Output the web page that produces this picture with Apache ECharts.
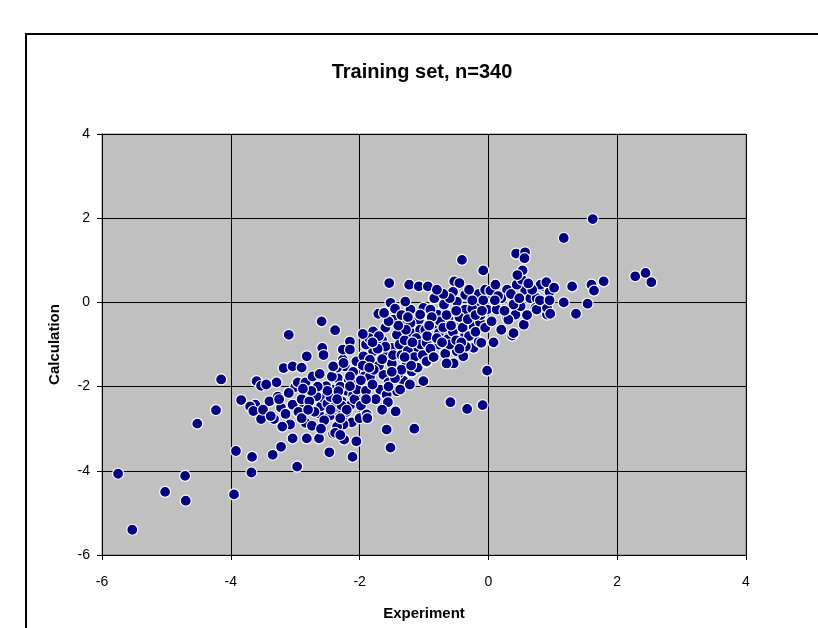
<!DOCTYPE html>
<html>
<head>
<meta charset="utf-8">
<script src="https://cdn.jsdelivr.net/npm/echarts@6/dist/echarts.min.js"></script>
<style>
html,body{margin:0;padding:0;background:#fff;}
#chart{width:818px;height:628px;}
</style>
</head>
<body>
<div id="chart"></div>
<script>
const titleText = "Training set, n=340";
const xName = "Experiment";
const yName = "Calculation";
const xTicks = [-6, -4, -2, 0, 2, 4];
const yTicks = [-6, -4, -2, 0, 2, 4];

const ptsFar = [[-5.75,-4.07],[-5.53,-5.4],[-5.02,-4.5],[-4.71,-4.12],[-4.7,-4.71],[-4.52,-2.88],[-4.23,-2.56],[-4.15,-1.83]];
const ptsA = [[-3.95,-4.56],[-3.92,-3.53],[-3.84,-2.32],[-3.68,-4.04],[-3.67,-3.67],[-3.6,-1.87],[-3.53,-1.98],[-3.62,-2.43],[-3.7,-2.47],[-3.65,-2.58],[-3.53,-2.77],[-3.35,-3.62],[-3.33,-2.77],[-3.29,-1.9],[-3.27,-2.24],[-3.22,-3.43],[-3.22,-2.5],[-3.18,-1.56],[-3.1,-0.77],[-3.08,-2.9],[-3.04,-3.23],[-3.04,-2.43],[-3.04,-1.52],[-3.0,-2.01],[-3.4,-2.35],[-3.45,-1.95],[-3.5,-2.55],[-3.15,-2.65],[-3.1,-2.15],[-3.25,-2.3],[-3.2,-2.95],[-3.38,-2.7]];
const ptsB = [[-2.97,-3.9],[-2.96,-1.9],[-2.86,-2.47],[-2.84,-1.9],[-2.82,-1.28],[-2.82,-3.23],[-2.73,-1.76],[-2.63,-3.23],[-2.59,-0.45],[-2.58,-1.08],[-2.56,-1.25],[-2.47,-3.56],[-2.41,-3.12],[-2.38,-0.66],[-2.24,-3.26],[-2.63,-2.64],[-2.6,-2.47],[-2.46,-2.69],[-2.33,-2.59],[-2.25,-2.77],[-2.41,-2.07],[-2.34,-1.8],[-2.28,-2.35],[-2.84,-2.86],[-2.74,-2.93],[-2.56,-2.27],[-2.67,-2.23],[-2.52,-1.99],[-2.43,-1.76],[-2.26,-1.36],[-2.23,-1.52],[-2.15,-0.93],[-2.26,-1.12],[-2.17,-1.83],[-2.5,-2.4],[-2.4,-2.5],[-2.2,-2.1],[-2.15,-2.45],[-2.1,-2.2],[-2.05,-1.9],[-2.11,-3.67],[-2.12,-2.85],[-2.3,-2.0],[-2.45,-2.25],[-2.35,-1.55],[-2.1,-1.65],[-2.05,-1.4],[-2.25,-2.9],[-2.55,-2.8],[-2.7,-2.6],[-2.9,-2.3],[-2.95,-2.6],[-2.78,-2.35],[-2.9,-2.75],[-2.6,-3.0],[-2.35,-2.95],[-2.2,-2.6],[-2.08,-2.3],[-2.41,-1.52],[-2.25,-1.44],[-2.15,-1.76],[-2.33,-2.11],[-2.28,-2.45],[-2.04,-2.07],[-2.15,-1.12],[-2.15,-1.99],[-2.2,-2.55],[-2.38,-3.1],[-2.3,-3.15],[-2.5,-2.1],[-2.65,-2.0],[-2.75,-2.1],[-2.88,-2.05],[-2.45,-2.55],[-2.35,-2.3],[-2.62,-1.7],[-2.8,-2.55],[-2.3,-2.75],[-2.9,-1.55],[-2.0,-2.75],[-2.05,-3.3]];
const ptsC = [[-1.98,-2.45],[-1.92,-1.75],[-1.89,-2.66],[-1.84,-1.76],[-1.79,-1.16],[-1.63,-1.72],[-1.68,-2.07],[-1.42,-2.11],[-1.32,-1.87],[-1.45,-1.56],[-1.19,-1.66],[-1.01,-1.87],[-1.11,-1.15],[-1.27,-1.4],[-1.5,-1.08],[-1.42,-0.77],[-1.47,-0.41],[-1.34,-0.49],[-1.19,-0.73],[-1.06,-0.37],[-1.08,-0.41],[-1.01,-0.13],[-1.21,-0.17],[-1.94,-1.28],[-1.79,-0.69],[-1.84,-1.36],[-1.58,-1.28],[-1.58,-2.19],[-1.56,-2.37],[-1.44,-2.59],[-1.54,0.46],[-1.23,0.42],[-1.52,-0.01],[-1.29,0.02],[-1.71,-0.27],[-1.19,-1.64],[-1.11,-1.14],[-1.27,-1.42],[-1.32,-1.86],[-1.37,-2.07],[-1.06,-0.65],[-1.21,-0.49],[-1.06,-0.29],[-1.9,-1.0],[-1.85,-0.85],[-1.95,-1.5],[-1.9,-2.1],[-1.8,-1.95],[-1.75,-2.3],[-1.7,-1.5],[-1.65,-0.9],[-1.6,-1.05],[-1.55,-1.9],[-1.5,-1.45],[-1.48,-1.25],[-1.4,-1.7],[-1.38,-1.0],[-1.35,-1.25],[-1.3,-0.9],[-1.25,-1.15],[-1.22,-1.95],[-1.15,-1.3],[-1.12,-0.85],[-1.1,-1.55],[-1.05,-1.0],[-1.02,-1.25],[-1.6,-0.6],[-1.65,-1.35],[-1.72,-1.1],[-1.78,-1.6],[-1.85,-1.55],[-1.98,-1.85],[-1.9,-2.3],[-1.55,-2.0],[-1.52,-3.45],[-1.58,-3.02],[-1.15,-3.0],[-1.45,-1.8],[-1.35,-1.6],[-1.28,-0.65],[-1.4,-0.55],[-1.55,-0.45],[-1.62,-0.25],[-1.45,-0.15],[-1.35,-0.3],[-1.18,-0.95],[-1.25,-0.35],[-1.7,-0.8],[-1.8,-0.95],[-1.95,-0.75],[-1.5,-1.65],[-1.2,-1.5],[-1.65,-2.55],[-1.88,-2.75],[-1.3,-1.3],[-1.08,0.38]];
const ptsD = [[-0.96,-1.42],[-0.98,-0.65],[-0.83,-0.53],[-0.77,-1.0],[-0.67,-1.2],[-0.62,-0.81],[-0.49,-1.16],[-0.39,-1.28],[-0.23,-1.08],[-0.15,-0.93],[-0.36,-0.77],[-0.28,-0.49],[-0.18,-0.53],[-0.1,-0.49],[-0.31,-0.25],[-0.36,-0.17],[-0.36,0.18],[-0.18,-0.09],[-0.49,0.02],[-0.69,-0.09],[-0.79,-0.29],[-0.85,0.1],[-0.62,-0.41],[-0.9,-0.17],[-0.64,-0.88],[-0.96,-0.96],[-0.41,1.01],[-0.08,0.76],[-0.94,0.38],[-0.53,0.5],[-0.45,0.46],[-0.02,-1.62],[-0.59,-2.37],[-0.33,-2.53],[-0.09,-2.44],[-0.54,-1.45],[-0.96,-1.4],[-0.67,-1.22],[-0.11,-0.96],[-0.77,-0.73],[-0.23,-0.57],[-0.13,-0.47],[-0.41,-0.53],[-0.69,-0.05],[-0.05,0.1],[-0.02,-0.17],[-0.84,0.1],[-0.95,-0.8],[-0.9,-1.1],[-0.85,-1.3],[-0.8,-0.85],[-0.75,-0.45],[-0.7,-0.6],[-0.65,-0.3],[-0.6,-1.0],[-0.55,-0.7],[-0.5,-0.9],[-0.45,-0.35],[-0.4,-0.6],[-0.35,-1.05],[-0.3,-0.8],[-0.25,-0.15],[-0.2,-0.7],[-0.15,0.2],[-0.12,-0.3],[-0.08,0.05],[-0.05,-0.6],[-0.55,0.25],[-0.6,0.1],[-0.7,0.2],[-0.8,0.3],[-0.3,0.3],[-0.25,0.05],[-0.5,-0.2],[-0.58,-0.55],[-0.72,-0.95],[-0.88,-0.35],[-0.92,-0.55],[-0.42,-0.95],[-0.32,-0.4],[-0.2,-0.3],[-0.1,-0.2],[-0.65,-1.45],[-0.45,-1.1],[-0.05,0.3]];
const ptsE = [[0.03,0.28],[0.13,-0.13],[0.29,0.3],[0.37,-0.05],[0.29,-0.37],[0.42,-0.29],[0.5,-0.09],[0.57,0.3],[0.65,0.1],[0.75,0.1],[0.86,0.38],[0.73,-0.13],[0.91,-0.29],[0.81,0.42],[0.11,0.42],[0.44,0.42],[0.52,0.54],[0.43,1.16],[0.57,1.19],[0.56,1.05],[0.53,0.76],[0.45,0.65],[0.08,-0.95],[0.37,-0.79],[0.31,-0.41],[0.39,-0.73],[0.55,-0.53],[0.39,-0.05],[0.75,-0.17],[0.91,-0.13],[0.13,-0.17],[0.2,0.1],[0.05,-0.45],[0.15,0.15],[0.25,-0.2],[0.6,-0.3],[0.68,0.3],[0.8,0.05],[0.95,0.25],[0.9,0.48],[0.35,0.2],[0.48,0.1],[0.62,0.45],[0.2,-0.65],[0.1,0.05]];
const ptsF = [[1.62,1.98],[1.17,1.53],[2.28,0.62],[2.44,0.7],[2.53,0.48],[1.79,0.5],[1.6,0.42],[1.64,0.28],[1.3,0.38],[1.17,0.0],[1.54,-0.03],[1.36,-0.27],[0.96,-0.27],[1.02,0.35],[0.95,0.05]];

const allPts = [].concat(ptsFar, ptsA, ptsB, ptsC, ptsD, ptsE, ptsF);

const chart = echarts.init(document.getElementById('chart'), null, {renderer: 'canvas'});
const font = '"Liberation Sans", Arial, sans-serif';
chart.setOption({
  animation: false,
  backgroundColor: '#ffffff',
  textStyle: {fontFamily: font},
  title: {
    text: titleText,
    left: 417, top: 57, textAlign: 'center',
    textStyle: {fontFamily: font, fontSize: 20, fontWeight: 'bold', color: '#000'}
  },
  graphic: [{
    type: 'rect', silent: true, z: 100,
    shape: {x: 26, y: 34, width: 900, height: 700},
    style: {fill: 'none', stroke: '#000', lineWidth: 2}
  }],
  grid: {
    left: 102, right: 72, top: 134, bottom: 73,
    show: true, backgroundColor: '#c0c0c0', borderColor: '#808080', borderWidth: 1
  },
  xAxis: {
    type: 'value', min: xTicks[0], max: xTicks[xTicks.length-1], interval: 2,
    name: xName, nameLocation: 'middle', nameGap: 51,
    nameTextStyle: {fontFamily: font, fontSize: 15, fontWeight: 'bold', color: '#000'},
    axisLine: {show: true, onZero: false, lineStyle: {color: '#000', width: 1}},
    axisTick: {show: true, inside: false, length: 5, lineStyle: {color: '#000'}},
    axisLabel: {fontFamily: font, fontSize: 14, color: '#000', margin: 20},
    splitLine: {show: true, lineStyle: {color: '#000', width: 1}}
  },
  yAxis: {
    type: 'value', min: yTicks[0], max: yTicks[yTicks.length-1], interval: 2,
    name: yName, nameLocation: 'middle', nameGap: 40,
    nameTextStyle: {fontFamily: font, fontSize: 15, fontWeight: 'bold', color: '#000'},
    axisLine: {show: true, onZero: false, lineStyle: {color: '#000', width: 1}},
    axisTick: {show: true, inside: false, length: 5, lineStyle: {color: '#000'}},
    axisLabel: {fontFamily: font, fontSize: 14, color: '#000', margin: 12},
    splitLine: {show: true, lineStyle: {color: '#000', width: 1}}
  },
  series: [{
    type: 'scatter',
    data: allPts,
    symbol: 'circle',
    symbolSize: 11,
    itemStyle: {color: '#000080', borderColor: '#ffffff', borderWidth: 1.2, opacity: 1}
  }]
});
</script>
</body>
</html>
